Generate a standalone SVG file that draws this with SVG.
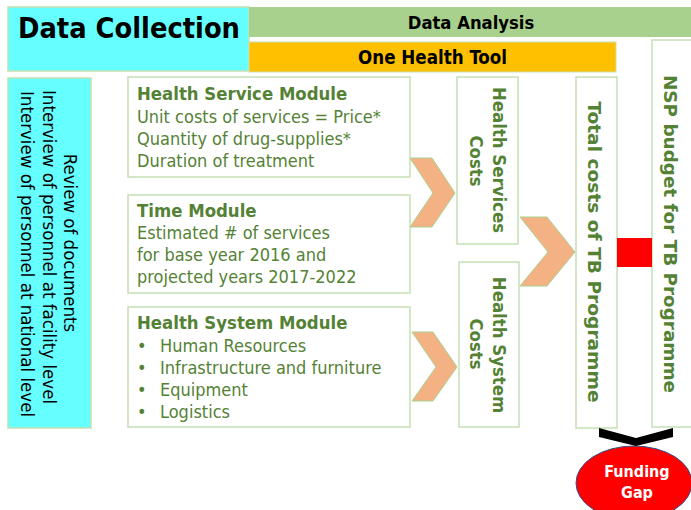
<svg xmlns="http://www.w3.org/2000/svg" width="691" height="510" viewBox="0 0 691 510">
<style>
.box{fill:#fff;stroke:#C5E0B4;stroke-width:1.5}
.g{fill:#548235;font-family:"DejaVu Sans Condensed","DejaVu Sans",sans-serif;font-size:18px}
.gb{fill:#548235;font-family:"DejaVu Sans Condensed","DejaVu Sans",sans-serif;font-size:18.4px;font-weight:bold}
.k{fill:#000;font-family:"DejaVu Sans Condensed","DejaVu Sans",sans-serif;font-size:18.5px}
.kb{fill:#000;font-family:"DejaVu Sans Condensed","DejaVu Sans",sans-serif;font-weight:bold}
.chev{fill:#F4B183;stroke:#A9D18E;stroke-width:1}
</style>
<rect width="691" height="510" fill="#fff"/>
<g id="data-collection">
<rect x="8" y="7" width="241" height="64" fill="#66FFFF" stroke="#C5E0B4" stroke-width="1.5"/>
<text class="kb" x="18" y="38" font-size="28" textLength="222" lengthAdjust="spacingAndGlyphs">Data Collection</text>
</g>
<g id="data-analysis">
<rect x="249" y="7" width="443" height="30" fill="#A9D18E"/>
<text class="kb" x="471" y="29" font-size="18.3" text-anchor="middle">Data Analysis</text>
</g>
<g id="one-health-tool">
<rect x="249" y="42" width="367" height="30" fill="#FFC000" stroke="#C5E0B4" stroke-width="1"/>
<text class="kb" x="358" y="64" font-size="18.6">One Health Tool</text>
</g>
<g id="methods">
<rect x="8" y="78" width="83" height="350" fill="#66FFFF" stroke="#C5E0B4" stroke-width="1.5"/>
<text class="k" text-anchor="middle" transform="translate(64,243) rotate(90)">Review of documents</text>
<text class="k" text-anchor="middle" transform="translate(43,247) rotate(90)">Interview of personnel at facility level</text>
<text class="k" text-anchor="middle" transform="translate(21,254) rotate(90)">Interview of personnel at national level</text>
</g>
<g id="health-service-module">
<rect class="box" x="128" y="77" width="282" height="100"/>
<text class="gb" x="137" y="100">Health Service Module</text>
<text class="g" x="137" y="123">Unit costs of services = Price*</text>
<text class="g" x="137" y="145">Quantity of drug-supplies*</text>
<text class="g" x="137" y="167">Duration of treatment</text>
</g>
<g id="time-module">
<rect class="box" x="128" y="195" width="282" height="98"/>
<text class="gb" x="137" y="217">Time Module</text>
<text class="g" x="137" y="239">Estimated # of services</text>
<text class="g" x="137" y="261">for base year 2016 and</text>
<text class="g" x="137" y="283">projected years 2017-2022</text>
</g>
<g id="health-system-module">
<rect class="box" x="128" y="307" width="282" height="120"/>
<text class="gb" x="137" y="329">Health System Module</text>
<text class="g" x="137" y="352">•</text><text class="g" x="160" y="352">Human Resources</text>
<text class="g" x="137" y="374">•</text><text class="g" x="160" y="374">Infrastructure and furniture</text>
<text class="g" x="137" y="396">•</text><text class="g" x="160" y="396">Equipment</text>
<text class="g" x="137" y="418">•</text><text class="g" x="160" y="418">Logistics</text>
</g>
<g id="health-services-costs">
<rect class="box" x="457" y="77" width="61" height="167"/>
<text class="gb" font-size="18.5" text-anchor="middle" transform="translate(493,160) rotate(90)">Health Services</text>
<text class="gb" font-size="18.5" text-anchor="middle" transform="translate(470,161) rotate(90)">Costs</text>
</g>
<g id="health-system-costs">
<rect class="box" x="459" y="262" width="60" height="165"/>
<text class="gb" font-size="18.5" text-anchor="middle" transform="translate(493,345) rotate(90)">Health System</text>
<text class="gb" font-size="18.5" text-anchor="middle" transform="translate(470,344) rotate(90)">Costs</text>
</g>
<g id="total-costs">
<rect class="box" x="576" y="77" width="41" height="351"/>
<text class="gb" font-size="20.5" text-anchor="middle" textLength="301" lengthAdjust="spacingAndGlyphs" transform="translate(588,252) rotate(90)">Total costs of TB Programme</text>
</g>
<g id="nsp-budget">
<rect class="box" x="652" y="40" width="50" height="387"/>
<text class="gb" font-size="21.5" text-anchor="middle" textLength="318" lengthAdjust="spacingAndGlyphs" transform="translate(664,234) rotate(90)">NSP budget for TB Programme</text>
</g>
<g id="funding-gap">
<ellipse cx="634" cy="483" rx="58" ry="37" fill="#FF0000" stroke="#2F528F" stroke-width="1"/>
<text x="637" y="477" fill="#fff" font-family="'DejaVu Sans Condensed','DejaVu Sans',sans-serif" font-weight="bold" font-size="16" text-anchor="middle">Funding</text>
<text x="637" y="498" fill="#fff" font-family="'DejaVu Sans Condensed','DejaVu Sans',sans-serif" font-weight="bold" font-size="16" text-anchor="middle">Gap</text>
</g>
<g id="connectors">
<polygon class="chev" points="410,158 432,158 455,193 432,227 410,227 433,193"/>
<polygon class="chev" points="520,217 547,217 575,252 547,286 520,286 548,252"/>
<polygon class="chev" points="412,332 433,332 457,367 433,401 412,401 436,367"/>
<rect x="617" y="238" width="35" height="29" fill="#FF0000"/>
<polygon points="599,428 636,438 673,428 673,437 636,446 599,437" fill="#000"/>
</g>
</svg>
